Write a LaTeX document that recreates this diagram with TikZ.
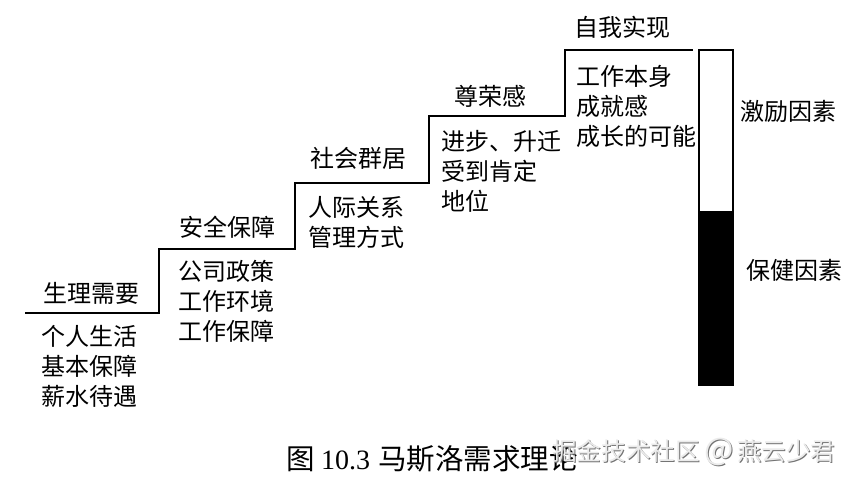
\documentclass[tikz,border=0pt]{standalone}
\usepackage{fontspec}
\newfontfamily\cjk{Noto Sans CJK SC}
\setmainfont{Liberation Serif}
\begin{document}
\begin{tikzpicture}[x=1pt,y=-1pt,
  lbl/.style={font=\cjk\fontsize{24}{28}\selectfont,inner sep=0pt,anchor=center},
  lst/.style={font=\cjk\fontsize{24}{30}\selectfont,inner sep=0pt,anchor=north west,align=left},
  wm/.style={font=\cjk\fontsize{24.6}{28}\selectfont,inner sep=0pt,anchor=west},
  stairline/.style={line width=1.5pt,black}]
\useasboundingbox (0,0) rectangle (854,482);
\coordinate (s0) at (25,313);
\coordinate (s1) at (159,313);
\coordinate (s2) at (159,249);
\coordinate (s3) at (295,249);
\coordinate (s4) at (295,183);
\coordinate (s5) at (429,183);
\coordinate (s6) at (429,116);
\coordinate (s7) at (565,116);
\coordinate (s8) at (565,50);
\coordinate (s9) at (693,50);
\draw[stairline] (s0)--(s1)--(s2)--(s3)--(s4)--(s5)--(s6)--(s7)--(s8)--(s9);
\node[lbl] (t1) at (91,293) {生理需要};
\node[lbl] (t2) at (227,227) {安全保障};
\node[lbl] (t3) at (358,158) {社会群居};
\node[lbl] (t4) at (490,96) {尊荣感};
\node[lbl] (t5) at (622,27) {自我实现};
\node[lst] (l1) at (41,325) {个人生活\\基本保障\\薪水待遇};
\node[lst] (l2) at (178,260) {公司政策\\工作环境\\工作保障};
\node[lst] (l3) at (308,196) {人际关系\\管理方式};
\node[lst] (l4) at (441,130) {进步、升迁\\受到肯定\\地位};
\node[lst] (l5) at (576,65) {工作本身\\成就感\\成长的可能};
\path[draw=black,line width=1.2pt,fill=white] (699,50) rectangle (733,212);
\path[draw=black,line width=1.2pt,fill=black] (699,212) rectangle (733,385);
\node[lbl] (m) at (788,111) {激励因素};
\node[lbl] (b) at (794,270) {保健因素};
\node[font=\cjk\fontsize{28.5}{32}\selectfont,inner sep=0pt,anchor=west] (c) at (286,459) {图 {\rmfamily\fontsize{28}{32}\selectfont 10.3}\hspace{8pt}马斯洛需求理论};
\node[wm,text=black!55] (ws) at (553,453) {掘金技术社区\hspace{5pt}{\fontsize{31}{28}\selectfont @}\hspace{3pt}燕云少君};
\node[wm,text=black!8] (w) at (552,452) {掘金技术社区\hspace{5pt}{\fontsize{31}{28}\selectfont @}\hspace{3pt}燕云少君};
\end{tikzpicture}
\end{document}
